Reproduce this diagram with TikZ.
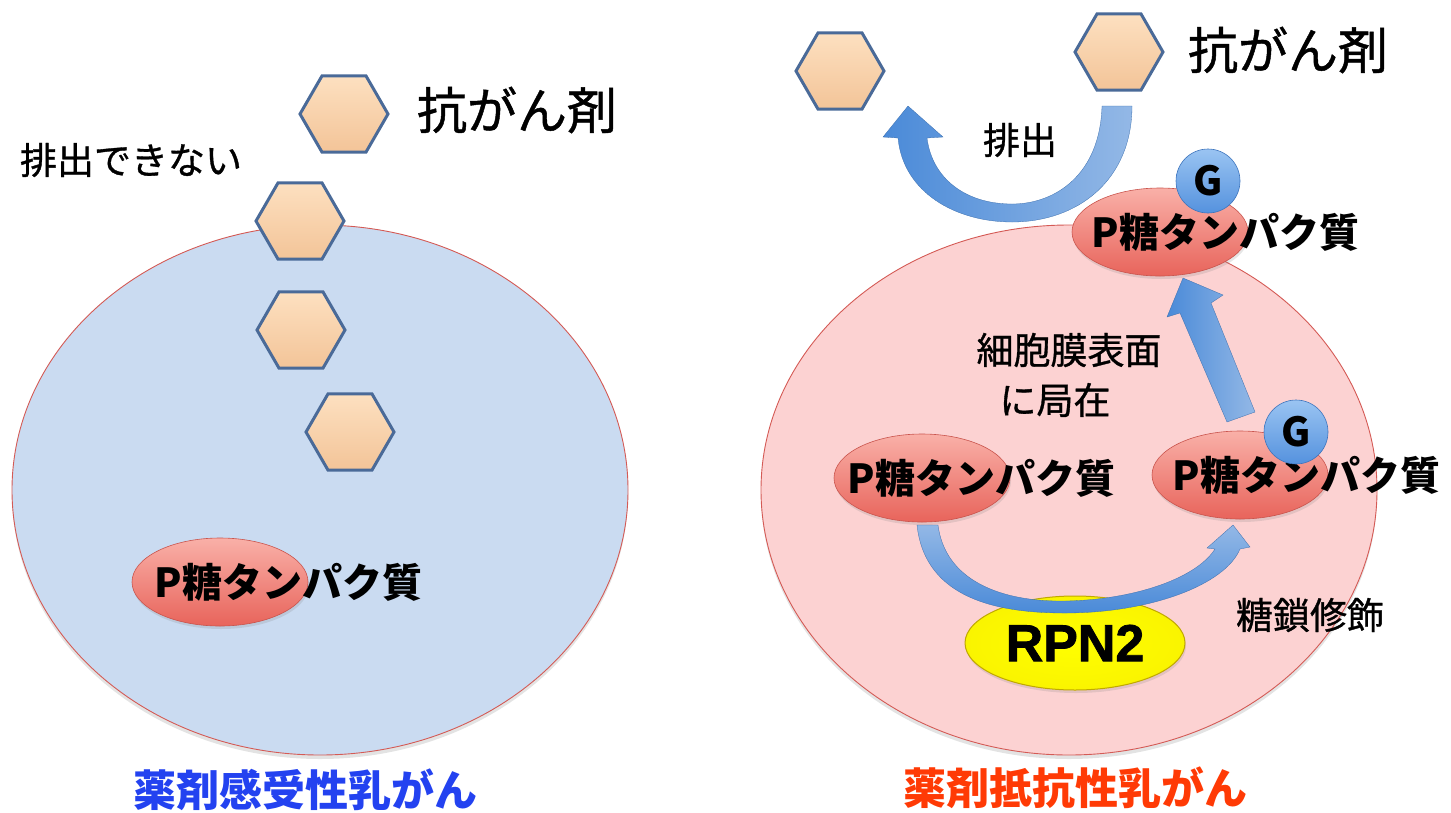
\documentclass[tikz,border=0pt]{standalone}
\usepackage{fontspec}
\setmainfont{Liberation Sans}
\newfontfamily\jp{Noto Sans CJK JP}
\newfontfamily\jpm{Noto Sans CJK JP}[FakeBold=0.9]
\newfontfamily\heavy{Liberation Sans Bold}[FakeBold=1.5]
\usetikzlibrary{shapes.geometric,shadows}

\definecolor{cellblue}{HTML}{CADBF1}
\definecolor{cellpink}{HTML}{FCD2D2}
\definecolor{celledge}{HTML}{D45A55}
\definecolor{hexedge}{HTML}{4A6A98}
\definecolor{hextop}{HTML}{FDE0C0}
\definecolor{hexbot}{HTML}{F3C498}
\definecolor{pgtop}{HTML}{F9B0A8}
\definecolor{pgbot}{HTML}{E8645B}
\definecolor{pgedge}{HTML}{C9544D}
\definecolor{gtop}{HTML}{9AC4F2}
\definecolor{gbot}{HTML}{5592DE}
\definecolor{gedge}{HTML}{3D74BC}
\definecolor{arrdark}{HTML}{4A8AD8}
\definecolor{arrlight}{HTML}{93B8E6}
\definecolor{rpnin}{HTML}{FFFF00}
\definecolor{rpnout}{HTML}{FAF400}
\definecolor{rpnedge}{HTML}{C0A800}
\definecolor{sensblue}{HTML}{2342F0}
\definecolor{resred}{HTML}{FF3A05}

\tikzset{
  cell/.style={ellipse, minimum width=616pt, minimum height=530pt, inner sep=0,
    draw=celledge, line width=0.9pt,
    drop shadow={shadow xshift=0pt, shadow yshift=-4pt, opacity=0.22}},
  drug/.style={regular polygon, regular polygon sides=6, minimum size=88pt,
    inner sep=0, draw=hexedge, line width=3pt, top color=hextop, bottom color=hexbot},
  pgp/.style={ellipse, minimum width=176pt, minimum height=88pt, inner sep=0,
    draw=pgedge, line width=0.6pt, top color=pgtop, bottom color=pgbot,
    drop shadow={shadow xshift=1pt, shadow yshift=-3pt, opacity=0.2}},
  pgptext/.style={anchor=west, inner sep=0, font=\jp\bfseries\fontsize{40}{44}\selectfont},
  glyco/.style={circle, minimum size=64pt, inner sep=0, draw=gedge, line width=0.6pt,
    top color=gtop, bottom color=gbot, font=\jp\bfseries\fontsize{40}{44}\selectfont},
  rpn/.style={ellipse, minimum width=220pt, minimum height=94pt, inner sep=0,
    draw=rpnedge, line width=1pt, inner color=rpnin, outer color=rpnout,
    font=\heavy\fontsize{52}{58}\selectfont,
    drop shadow={shadow xshift=1pt, shadow yshift=-3pt, opacity=0.2}},
  note/.style={inner sep=0, font=\jpm\fontsize{37}{42}\selectfont},
  drugname/.style={inner sep=0, font=\jpm\fontsize{50}{56}\selectfont},
  title/.style={inner sep=0, font=\jp\bfseries\fontsize{43}{48}\selectfont},
  bandarrow/.style={left color=arrdark, right color=arrlight, draw=arrdark!80!black, line width=0.3pt},
}

\begin{document}
\begin{tikzpicture}[x=1pt, y=-1pt]
\useasboundingbox (0,0) rectangle (1451,812);

% ---------- drug-sensitive cell (left) ----------
\node[cell, fill=cellblue] (cellL) at (320,490) {};

\node[drug] (dL1) at (344,114) {};
\node[drug] (dL2) at (300,221) {};
\node[drug] (dL3) at (301,330) {};
\node[drug] (dL4) at (350,432) {};

\node[drugname] (drugL) at (517,110) {抗がん剤};
\node[note] (noexit) at (131,160) {排出できない};

\node[pgp] (pgL) at (220,582) {};
\node[pgptext] (pgLt) at ([xshift=23pt]pgL.west) {P糖タンパク質};

\node[title, text=sensblue] (titleL) at (305,790) {薬剤感受性乳がん};

% ---------- drug-resistant cell (right) ----------
\node[cell, fill=cellpink] (cellR) at (1069,490) {};

\node[drug] (dR1) at (840,71) {};
\node[drug] (dR2) at (1119,52) {};
\node[drugname] (drugR) at (1288,50) {抗がん剤};

% efflux arrow
\path[bandarrow] (1102,106) .. controls (1100,175) and (1055,204) .. (1012,204)
  .. controls (965,204) and (932,178) .. (927,138) -- (943,137) -- (908,106)
  -- (883,137) -- (898,138) .. controls (903,192) and (955,222) .. (1012,222)
  .. controls (1078,222) and (1132,180) .. (1132,106) -- cycle;
\node[note] (efflux) at (1020,140) {排出};

% membrane-bound P-glycoprotein
\node[pgp] (pgTop) at (1160,232) {};
\node[pgptext] (pgTopt) at ([xshift=20pt]pgTop.west) {P糖タンパク質};
\node[glyco] (gTop) at (1208,181) {G};

% intracellular P-glycoproteins
\node[pgp] (pgMid) at (922,478) {};
\node[pgptext] (pgMidt) at ([xshift=14pt]pgMid.west) {P糖タンパク質};

\node[pgp] (pgRt) at (1240,475) {};
\node[pgptext] (pgRtt) at ([xshift=21pt]pgRt.west) {P糖タンパク質};
\node[glyco] (gRt) at (1296,432) {G};

% transport to the membrane
\path[bandarrow] (1183,278) -- (1223,295) -- (1211,303) -- (1255,412)
  -- (1227,422) -- (1180,313) -- (1167,317) -- cycle;
\node[note] (locate1) at (1069,350) {細胞膜表面};
\node[note] (locate2) at (1055,400) {に局在};

% RPN2 and glycosylation
\node[rpn] (rpn2) at (1075,643) {RPN2};
\path[bandarrow, top color=arrlight, bottom color=arrdark]
  (917,525) .. controls (925,600) and (1000,613) .. (1065,613)
  .. controls (1150,613) and (1225,585) .. (1240,549) -- (1250,547) -- (1233,525)
  -- (1207,548) -- (1215,549) .. controls (1195,580) and (1130,600) .. (1065,601)
  .. controls (1000,602) and (945,580) .. (938,525) -- cycle;
\node[note] (glycan) at (1310,615) {糖鎖修飾};

\node[title, text=resred] (titleR) at (1075,788) {薬剤抵抗性乳がん};
\end{tikzpicture}
\end{document}
